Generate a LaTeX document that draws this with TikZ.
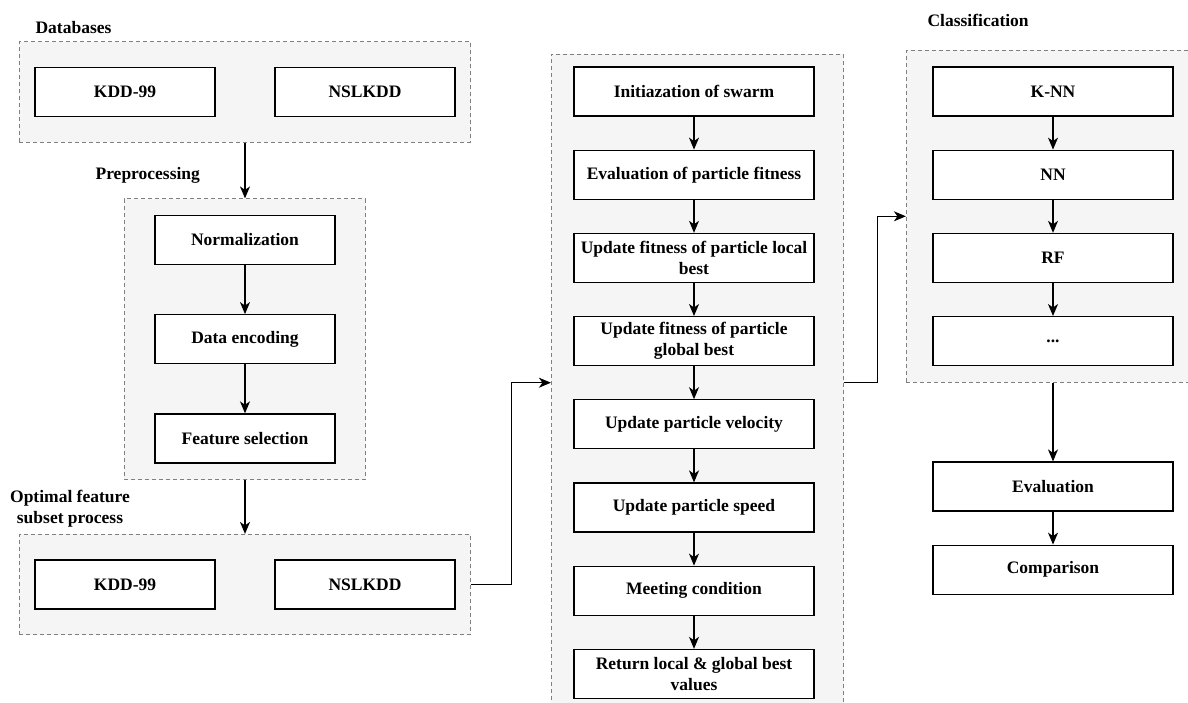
\documentclass[tikz,border=0pt]{standalone}
\usepackage{fontspec}
\setmainfont{Liberation Serif}
\usepackage{tikz}
\usetikzlibrary{arrows.meta,positioning,fit,backgrounds}
\tikzset{
  basic/.style  = {draw, line width=1.2pt, fill=white, rectangle, align=flush center, inner xsep=3pt,
                   minimum height=49pt, font=\fontsize{17.5}{21}\selectfont\bfseries},
  short/.style  = {basic, text width=174pt},
  long/.style   = {basic, text width=234pt},
  group/.style  = {draw=black!50, line width=1pt, dash pattern=on 4pt off 3pt, fill=black!4, rectangle},
  title/.style  = {inner sep=0pt, align=center, font=\fontsize{17.5}{21}\selectfont\bfseries}
}

\begin{document}
\begin{tikzpicture}[x=1pt, y=-1pt, >={Stealth[length=12pt,width=10pt,inset=3.5pt]},
  every path/.style={line width=1.2pt}]
\useasboundingbox (0,0) rectangle (1188,702);

% databases
\node[short] (d1) at (125,92) {KDD-99};
\node[short] (d2) at (365,92) {NSLKDD};

% preprocessing
\node[short] (r1) at (245,240) {Normalization};
\node[short, below=49pt of r1] (r2) {Data encoding};
\node[short, below=49pt of r2] (r3) {Feature selection};

% optimal feature subset
\node[short] (o1) at (125,584.5) {KDD-99};
\node[short] (o2) at (365,584.5) {NSLKDD};

% swarm steps
\node[long] (p1) at (694,91.5) {Initiazation of swarm};
\node[long, below=33pt of p1] (p2) {Evaluation of particle fitness};
\node[long, below=33pt of p2] (p3) {Update fitness of particle local best};
\node[long, below=33pt of p3] (p4) {Update fitness of particle global best};
\node[long, below=33pt of p4] (p5) {Update particle velocity};
\node[long, below=33pt of p5] (p6) {Update particle speed};
\node[long, below=33pt of p6] (p7) {Meeting condition};
\node[long, below=33pt of p7] (p8) {Return local \& global best values};

% classifiers
\node[long] (c1) at (1053,91.5) {K-NN};
\node[long, below=33pt of c1] (c2) {NN};
\node[long, below=33pt of c2] (c3) {RF};
\node[long, below=33pt of c3] (c4) {...};

\node[long] (e1) at (1053,486.5) {Evaluation};
\node[long, below=33pt of e1] (e2) {Comparison};

% dashed groups behind the boxes
\begin{scope}[on background layer]
\node[group, fit=(d1)(d2), inner xsep=15pt, inner ysep=25pt] (g1) {};
\node[group, fit=(r1)(r3), inner xsep=30pt, inner ysep=16pt] (g2) {};
\node[group, fit=(o1)(o2), inner xsep=15pt, inner ysep=25pt] (g3) {};
\node[group, fit=(p1)(p8), inner xsep=25.5pt, inner ysep=12pt, xshift=3.5pt] (g4) {};
\node[group, fit=(c1)(c4), inner xsep=26pt, inner ysep=16pt] (g5) {};
\end{scope}

% group titles
\node[title, anchor=west] (t1) at (35,28) {Databases};
\node[title, anchor=west] (t2) at (95,175) {Preprocessing};
\node[title] (t3) at (70,509) {Optimal feature\\subset process};
\node[title, anchor=west] (t4) at (927,20) {Classification};

% connectors
\draw[->] (g1) -- (g2);
\draw[->] (r1) -- (r2);
\draw[->] (r2) -- (r3);
\draw[->] (g2) -- (g3);
\draw[->] (g3.east) -- ++(40,0) |- (g4.west);
\foreach \a/\b in {p1/p2,p2/p3,p3/p4,p4/p5,p5/p6,p6/p7,p7/p8,c1/c2,c2/c3,c3/c4,e1/e2}
  \draw[->] (\a) -- (\b);
\draw[->] (g4.east) -- ++(33,0) |- (g5.west);
\draw[->] (g5.south -| e1) -- (e1);
\end{tikzpicture}
\end{document}
